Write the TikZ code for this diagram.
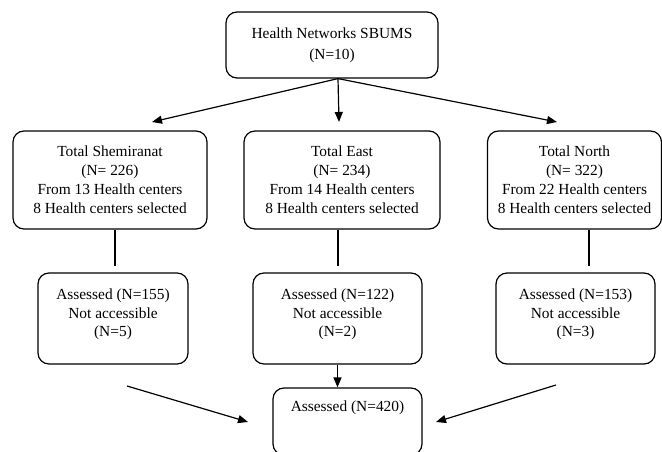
\documentclass[tikz,border=0pt]{standalone}
\usepackage{fontspec}
\setmainfont{Liberation Serif}
\usetikzlibrary{arrows.meta}
\tikzset{
  arr/.style={-{Triangle[length=10bp,width=8bp]},line width=1.2bp,draw=black},
  link/.style={line width=1.2bp,draw=black},
  boxstyle/.style={draw=black,rounded corners=11bp,fill=white,line width=1.2bp,align=center,inner sep=0pt}
}

\begin{document}
\begin{tikzpicture}[x=1bp,y=-1bp,font=\fontsize{15.4bp}{19bp}\selectfont]
  \useasboundingbox (0,0) rectangle (662,452);
  \clip (0,0) rectangle (662,452);
  \node[boxstyle,minimum width=212bp,minimum height=66bp,font=\fontsize{15.4bp}{21bp}\selectfont] (net) at (332,45) {Health Networks SBUMS\\(N=10)};
  \node[boxstyle,minimum width=194bp,minimum height=98bp] (sh) at (110,180) {Total Shemiranat\\(N= 226)\\From 13 Health centers\\8 Health centers selected};
  \node[boxstyle,minimum width=196bp,minimum height=98bp] (ea) at (342,180) {Total East\\(N= 234)\\From 14 Health centers\\8 Health centers selected};
  \node[boxstyle,minimum width=174bp,minimum height=98bp] (no) at (574.5,180) {Total North\\(N= 322)\\From 22 Health centers\\8 Health centers selected};
  \node[boxstyle,minimum width=150bp,minimum height=91bp,text depth=11bp,font=\fontsize{15.4bp}{18.5bp}\selectfont] (asSh) at (113,318.5) {Assessed (N=155)\\Not accessible\\(N=5)};
  \node[boxstyle,minimum width=169bp,minimum height=91bp,text depth=11bp,font=\fontsize{15.4bp}{18.5bp}\selectfont] (asEa) at (337.5,318.5) {Assessed (N=122)\\Not accessible\\(N=2)};
  \node[boxstyle,minimum width=159bp,minimum height=91bp,text depth=11bp,font=\fontsize{15.4bp}{18.5bp}\selectfont] (asNo) at (575.5,318.5) {Assessed (N=153)\\Not accessible\\(N=3)};
  \node[boxstyle,minimum width=149bp,minimum height=67bp,text depth=30bp] (tot) at (347.5,421.5) {Assessed (N=420)};
  % free ends
  \coordinate (tipSh) at (152,122);
  \coordinate (tipEa) at (339,122);
  \coordinate (tipNo) at (557,122);
  \coordinate (endSh) at (115,266);
  \coordinate (endEa) at (338,266);
  \coordinate (endNo) at (589,266);
  \coordinate (fromSh) at (127,386);
  \coordinate (toSh) at (248,422);
  \coordinate (fromNo) at (556,385);
  \coordinate (toNo) at (436,422);
  \draw[arr] ([xshift=6bp]net.south)--(tipSh);\draw[arr] ([xshift=6bp]net.south)--(tipEa);\draw[arr] ([xshift=6bp]net.south)--(tipNo);
  \draw[link] (sh.south -| endSh)--(endSh);\draw[link] (ea.south -| endEa)--(endEa);\draw[link] (no.south -| endNo)--(endNo);
  \draw[arr] (asEa.south)--(asEa.south |- tot.north);
  \draw[arr] (fromSh)--(toSh);\draw[arr] (fromNo)--(toNo);
\end{tikzpicture}
\end{document}
